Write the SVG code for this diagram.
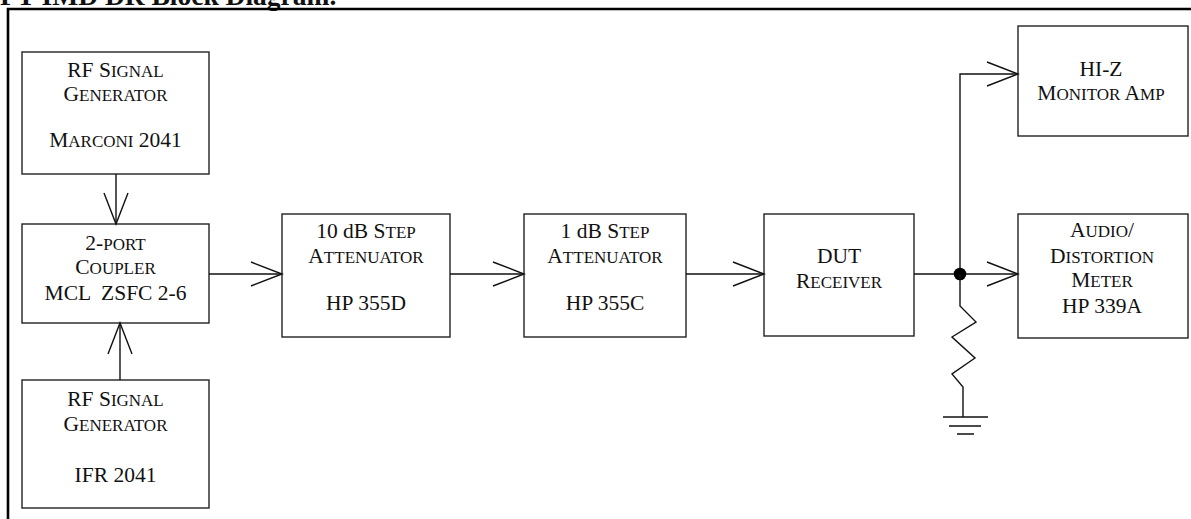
<svg xmlns="http://www.w3.org/2000/svg" width="1191" height="519" viewBox="0 0 1191 519">
<style>
text{font-family:"Liberation Serif","Times New Roman",serif;font-size:21.5px;fill:#111;text-anchor:middle}
.sc{font-size:17px}
.title{font-weight:bold;font-size:27.5px;text-anchor:start}
.box{fill:#fff;stroke:#222;stroke-width:1.4}
.wire{fill:none;stroke:#111;stroke-width:1.4}
.arr{fill:none;stroke:#111;stroke-width:1.4;marker-end:url(#ah)}
</style>
<defs>
<marker id="ah" markerUnits="userSpaceOnUse" viewBox="-33 -14 35 28" refX="0" refY="0" markerWidth="35" markerHeight="28" orient="auto" overflow="visible">
<path d="M-31,-12 L0,0 L-31,12" fill="none" stroke="#111" stroke-width="1.4"/>
</marker>
</defs>
<rect width="1191" height="519" fill="#fff"/>
<text class="title" x="0" y="5">FT IMD DR Block Diagram.</text>
<path d="M8,519 V9 H1191" fill="none" stroke="#000" stroke-width="2.6"/>

<g id="gen1">
<rect class="box" x="22" y="52" width="187" height="122"/>
<text x="115.5" y="77">RF S<tspan class="sc">IGNAL</tspan></text>
<text x="115.5" y="101">G<tspan class="sc">ENERATOR</tspan></text>
<text x="115.5" y="147">M<tspan class="sc">ARCONI</tspan> 2041</text>
</g>
<g id="coupler">
<rect class="box" x="22" y="224" width="187" height="99"/>
<text x="115.5" y="250">2-<tspan class="sc">PORT</tspan></text>
<text x="115.5" y="274">C<tspan class="sc">OUPLER</tspan></text>
<text x="115.5" y="300" xml:space="preserve">MCL  ZSFC 2-6</text>
</g>
<g id="gen2">
<rect class="box" x="22" y="380" width="187" height="128"/>
<text x="115.5" y="406">RF S<tspan class="sc">IGNAL</tspan></text>
<text x="115.5" y="431">G<tspan class="sc">ENERATOR</tspan></text>
<text x="115.5" y="482">IFR 2041</text>
</g>
<g id="att10">
<rect class="box" x="282" y="214" width="168" height="123"/>
<text x="366" y="238">10 dB S<tspan class="sc">TEP</tspan></text>
<text x="366" y="263">A<tspan class="sc">TTENUATOR</tspan></text>
<text x="366" y="310">HP 355D</text>
</g>
<g id="att1">
<rect class="box" x="524" y="214" width="162" height="123"/>
<text x="605" y="238">1 dB S<tspan class="sc">TEP</tspan></text>
<text x="605" y="263">A<tspan class="sc">TTENUATOR</tspan></text>
<text x="605" y="310">HP 355C</text>
</g>
<g id="dut">
<rect class="box" x="764" y="214" width="150" height="122"/>
<text x="839" y="263">DUT</text>
<text x="839" y="288">R<tspan class="sc">ECEIVER</tspan></text>
</g>
<g id="hiz">
<rect class="box" x="1018" y="26" width="170" height="110"/>
<text x="1101" y="76">HI-Z</text>
<text x="1101" y="100">M<tspan class="sc">ONITOR</tspan> A<tspan class="sc">MP</tspan></text>
</g>
<g id="audio">
<rect class="box" x="1018" y="214" width="170" height="124"/>
<text x="1102" y="237">A<tspan class="sc">UDIO</tspan>/</text>
<text x="1102" y="263">D<tspan class="sc">ISTORTION</tspan></text>
<text x="1102" y="287">M<tspan class="sc">ETER</tspan></text>
<text x="1102" y="313">HP 339A</text>
</g>

<g id="connectors">
<path class="arr" d="M116,174 V224"/>
<path class="arr" d="M120,380 V323"/>
<path class="arr" d="M209,274 H282"/>
<path class="arr" d="M450,274 H524"/>
<path class="arr" d="M686,274 H764"/>
<path class="wire" d="M914,274 H960"/>
<path class="arr" d="M960,274 H1018"/>
<path class="arr" d="M960,274 V74 H1018"/>
<circle cx="960" cy="274" r="6.3" fill="#000"/>
<path class="wire" d="M960,274 V306 L976,322 L952,337 L975,358 L952,374 L963,387 V417"/>
<path class="wire" d="M943,417 H988 M949,426 H981 M957,434 H974"/>
</g>
</svg>
